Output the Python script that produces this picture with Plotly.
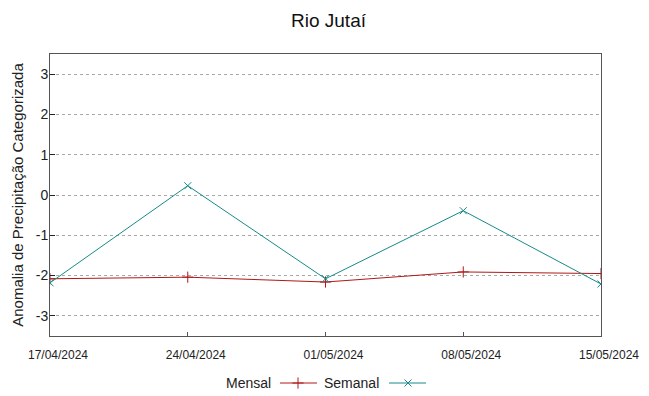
import plotly.graph_objects as go

dates = ["2024-04-17", "2024-04-24", "2024-05-01", "2024-05-08", "2024-05-15"]
mensal = [-2.08, -2.04, -2.16, -1.91, -1.95]
semanal = [-2.18, 0.23, -2.08, -0.39, -2.21]
y_ticks = [-3, -2, -1, 0, 1, 2, 3]
y_tick_labels = [str(v) for v in y_ticks]

RED = "#b01818"
TEAL = "#178a8a"
FONT = "Liberation Sans, Arial, sans-serif"

# page body has an 8px default margin; compensate so the screenshot matches
OFF = 8
W, H = 649 - OFF, 396 - OFF
plot_left, plot_right, plot_top, plot_bottom = 50 - OFF, 601 - OFF, 54 - OFF, 336 - OFF
mt, mb, ml, mr = plot_top, 2, plot_left, W - plot_right
paper_h = H - mt - mb
ydom0 = (H - mb - plot_bottom) / paper_h

fig = go.Figure()
fig.add_trace(go.Scatter(x=dates, y=mensal, mode="lines+markers", name="Mensal",
                         line=dict(color=RED, width=1),
                         marker=dict(symbol="cross-thin", size=8, line=dict(color=RED, width=1)),
                         showlegend=False))
fig.add_trace(go.Scatter(x=dates, y=semanal, mode="lines+markers", name="Semanal",
                         line=dict(color=TEAL, width=1),
                         marker=dict(symbol="x-thin", size=7, line=dict(color=TEAL, width=1)),
                         showlegend=False))

# legend samples (gnuplot style: text then sample), in pixel-like coordinates
leg_y = 383 - OFF
fig.add_trace(go.Scatter(x=[280 - OFF, 317 - OFF], y=[leg_y, leg_y], mode="lines",
                         line=dict(color=RED, width=1),
                         xaxis="x2", yaxis="y2", showlegend=False, hoverinfo="skip"))
fig.add_trace(go.Scatter(x=[298 - OFF], y=[leg_y], mode="markers",
                         marker=dict(symbol="cross-thin", size=8, line=dict(color=RED, width=1)),
                         xaxis="x2", yaxis="y2", showlegend=False, hoverinfo="skip"))
fig.add_trace(go.Scatter(x=[389 - OFF, 426 - OFF], y=[leg_y, leg_y], mode="lines",
                         line=dict(color=TEAL, width=1),
                         xaxis="x2", yaxis="y2", showlegend=False, hoverinfo="skip"))
fig.add_trace(go.Scatter(x=[408 - OFF], y=[leg_y], mode="markers",
                         marker=dict(symbol="x-thin", size=7, line=dict(color=TEAL, width=1)),
                         xaxis="x2", yaxis="y2", showlegend=False, hoverinfo="skip"))

fig.update_layout(
    width=W, height=H,
    margin=dict(l=ml, r=mr, t=mt, b=mb, autoexpand=False),
    paper_bgcolor="white", plot_bgcolor="white",
    font=dict(family=FONT, color="#222222"),
    title=dict(text="Rio Jutaí", x=0.5, xanchor="center", y=1 - (20 - OFF) / H, yanchor="middle",
               font=dict(size=19, family=FONT, color="#111111")),
    xaxis=dict(type="date", range=[dates[0], dates[-1]], tickvals=dates, tickformat="%d/%m/%Y",
               showgrid=False, zeroline=False, showline=True, mirror=True,
               linecolor="#555555", linewidth=1, ticks="inside", ticklen=4, tickcolor="#555555",
               ticklabelstandoff=8, ticklabelshift=8,
               tickfont=dict(size=12, family=FONT, color="#222222"), anchor="y", domain=[0, 1]),
    yaxis=dict(range=[-3.5, 3.5], tickvals=y_ticks, ticktext=y_tick_labels,
               showgrid=True, gridcolor="#a8a8a8",
               griddash="dot", gridwidth=1, zeroline=False, showline=True, mirror=True,
               linecolor="#555555", linewidth=1, ticks="inside", ticklen=5, tickcolor="#222222",
               ticklabelstandoff=-2,
               tickfont=dict(size=14, family=FONT, color="#222222"), domain=[ydom0, 1],
               title=dict(text="Anomalia de Precipitação Categorizada", standoff=8,
                          font=dict(size=15, family=FONT, color="#222222"))),
    xaxis2=dict(domain=[0, 1], range=[plot_left, plot_right], visible=False, anchor="y2",
                fixedrange=True),
    yaxis2=dict(domain=[0, ydom0 * 0.999], range=[H - mb, plot_bottom], visible=False,
                anchor="x2", fixedrange=True),
    annotations=[
        dict(text="Mensal", xref="x2", yref="y2", x=273 - OFF, y=leg_y, xanchor="right",
             yanchor="middle", showarrow=False, font=dict(size=14, family=FONT, color="#222222")),
        dict(text="Semanal", xref="x2", yref="y2", x=381 - OFF, y=leg_y, xanchor="right",
             yanchor="middle", showarrow=False, font=dict(size=14, family=FONT, color="#222222")),
    ],
)

fig.write_html("out.html")
